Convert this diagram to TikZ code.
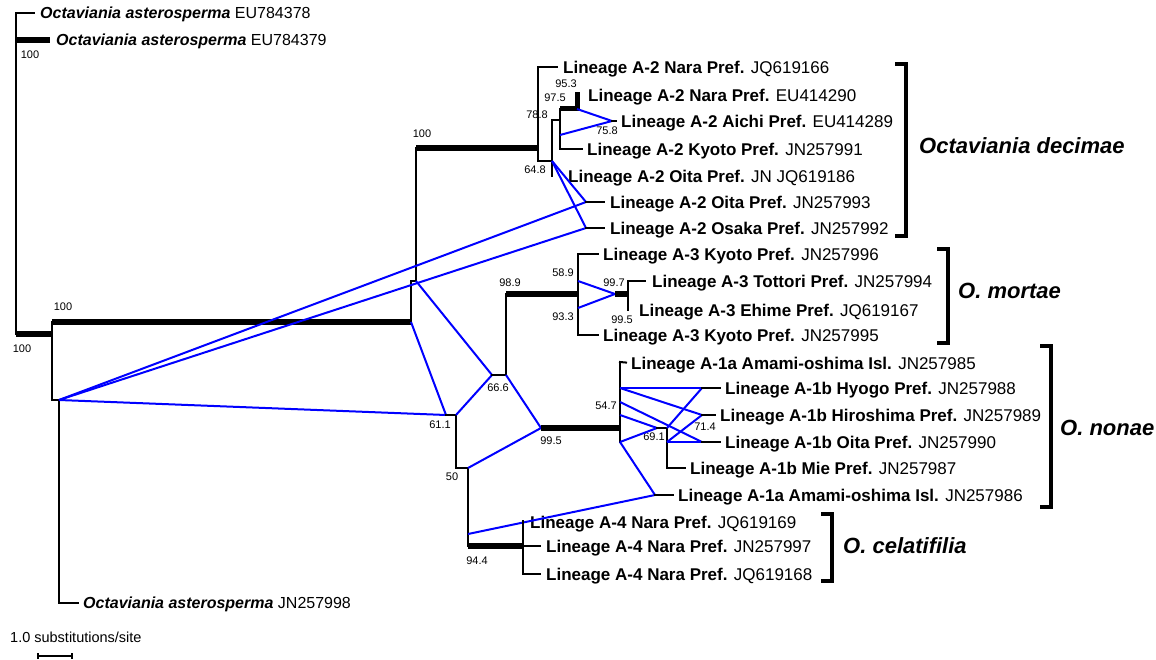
\documentclass[tikz,border=0pt]{standalone}
\usepackage{fontspec}
\setmainfont{Liberation Sans}
\usetikzlibrary{arrows.meta, positioning}

\begin{document}
\begin{tikzpicture}[x=1pt,y=-1pt]

	\tikzset{
		branch/.style={
				draw=black, line width=2pt, line cap=rect
			},
		thickbr/.style={
				draw=black, line width=6.5pt
			},
		net/.style={
				draw=blue, line width=2pt
			},
		taxon/.style={
				inner sep=0pt, anchor=west, text height=12.2pt, text depth=0pt, font=\fontsize{17}{19}\selectfont
			},
		outgrp/.style={
				taxon, text height=11.5pt, font=\fontsize{16}{18}\selectfont
			},
		bs/.style={
				inner sep=0pt, font=\fontsize{11}{12}\selectfont
			},
		clade/.style={
				inner sep=0pt, text height=15.6pt, text depth=0pt, font=\fontsize{22}{24}\selectfont\bfseries\itshape
			},
		bracket/.style={
				draw=black, line width=4pt
			},
	}
	\useasboundingbox (0,0) rectangle (1156,660);

	% tree vertices
	\coordinate (o0) at (16,13);
	\coordinate (o2) at (16,40);
	\coordinate (rt) at (16,334);
	\coordinate (r1) at (52,334);
	\coordinate (r2) at (52,322);
	\coordinate (r3) at (52,400);
	\coordinate (r4) at (59,400);
	\coordinate (r5) at (59,603);
	\coordinate (i0) at (411,322);
	\coordinate (i1) at (411,281);
	\coordinate (i2) at (416,281);
	\coordinate (i3) at (416,148);
	\coordinate (i4) at (538,148);
	\coordinate (a0) at (538,67);
	\coordinate (a2) at (538,161);
	\coordinate (a3) at (552,161);
	\coordinate (a4) at (552,120);
	\coordinate (a5) at (552,176);
	\coordinate (a6) at (560,120);
	\coordinate (a7) at (560,109);
	\coordinate (a8) at (560,149);
	\coordinate (a10) at (577,109);
	\coordinate (a11) at (577,92);
	\coordinate (a12) at (560,135);
	\coordinate (a13) at (612,121);
	\coordinate (a15) at (586,202);
	\coordinate (a17) at (586,228);
	\coordinate (c1) at (446,415);
	\coordinate (c2) at (456,415);
	\coordinate (c3) at (456,468);
	\coordinate (c4) at (468,468);
	\coordinate (c5) at (468,546);
	\coordinate (c6) at (492,375);
	\coordinate (c7) at (506,375);
	\coordinate (c8) at (506,294);
	\coordinate (c9) at (578,294);
	\coordinate (c10) at (541,428);
	\coordinate (c11) at (620,428);
	\coordinate (c12) at (468,534);
	\coordinate (m0) at (578,254);
	\coordinate (m1) at (578,335);
	\coordinate (m2) at (578,281);
	\coordinate (m3) at (578,308);
	\coordinate (m4) at (615,294);
	\coordinate (m5) at (628,294);
	\coordinate (m6) at (628,281);
	\coordinate (m7) at (628,310);
	\coordinate (p0) at (620,362);
	\coordinate (p1) at (620,442);
	\coordinate (p2) at (620,388);
	\coordinate (p3) at (620,402);
	\coordinate (p4) at (620,415);
	\coordinate (q0) at (657,428);
	\coordinate (q1) at (667,428);
	\coordinate (q2) at (667,468);
	\coordinate (q3) at (667,442);
	\coordinate (h1) at (702,388);
	\coordinate (h2) at (702,415);
	\coordinate (h3) at (702,442);
	\coordinate (h4) at (655,495);
	\coordinate (d0) at (523,521);
	\coordinate (d1) at (523,574);
	\coordinate (d2) at (523,546);

	% leaves
	\node[outgrp] (ast1) at (40,13) {\textbf{\textit{Octaviania asterosperma}} EU784378};
	\node[outgrp] (ast2) at (56,40) {\textbf{\textit{Octaviania asterosperma}} EU784379};
	\node[outgrp] (ast3) at (83,603) {\textbf{\textit{Octaviania asterosperma}} JN257998};
	\node[taxon] (n1) at (563,67) {\textbf{Lineage A-2 Nara Pref.} JQ619166};
	\node[taxon] (n2) at (588,95) {\textbf{Lineage A-2 Nara Pref.} EU414290};
	\node[taxon] (aic) at (621,121) {\textbf{Lineage A-2 Aichi Pref.} EU414289};
	\node[taxon] (kyo2) at (587,149) {\textbf{Lineage A-2 Kyoto Pref.} JN257991};
	\node[taxon] (oit1) at (568,176) {\textbf{Lineage A-2 Oita Pref.} JN JQ619186};
	\node[taxon] (oit2) at (610,202) {\textbf{Lineage A-2 Oita Pref.} JN257993};
	\node[taxon] (osa) at (610,228) {\textbf{Lineage A-2 Osaka Pref.} JN257992};
	\node[taxon] (k1) at (603,254) {\textbf{Lineage A-3 Kyoto Pref.} JN257996};
	\node[taxon] (tot) at (652,281) {\textbf{Lineage A-3 Tottori Pref.} JN257994};
	\node[taxon] (ehi) at (639,310) {\textbf{Lineage A-3 Ehime Pref.} JQ619167};
	\node[taxon] (k2) at (603,335) {\textbf{Lineage A-3 Kyoto Pref.} JN257995};
	\node[taxon] (am1) at (631,363) {\textbf{Lineage A-1a Amami-oshima Isl.} JN257985};
	\node[taxon] (hyo) at (725,388) {\textbf{Lineage A-1b Hyogo Pref.} JN257988};
	\node[taxon] (hir) at (720,415) {\textbf{Lineage A-1b Hiroshima Pref.} JN257989};
	\node[taxon] (oit3) at (725,442) {\textbf{Lineage A-1b Oita Pref.} JN257990};
	\node[taxon] (mie) at (690,468) {\textbf{Lineage A-1b Mie Pref.} JN257987};
	\node[taxon] (am2) at (678,495) {\textbf{Lineage A-1a Amami-oshima Isl.} JN257986};
	\node[taxon] (nr1) at (530,522) {\textbf{Lineage A-4 Nara Pref.} JQ619169};
	\node[taxon] (nr2) at (546,546) {\textbf{Lineage A-4 Nara Pref.} JN257997};
	\node[taxon] (nr3) at (546,574) {\textbf{Lineage A-4 Nara Pref.} JQ619168};

	% support values
	\node[bs] (b1) at (30,55) {100};
	\node[bs] (b2) at (22,349) {100};
	\node[bs] (b3) at (63,307) {100};
	\node[bs] (b4) at (422,134) {100};
	\node[bs] (b5) at (566,84) {95.3};
	\node[bs] (b6) at (555,98) {97.5};
	\node[bs] (b7) at (537,115) {78.8};
	\node[bs] (b8) at (607,131) {75.8};
	\node[bs] (b9) at (535,170) {64.8};
	\node[bs] (b10) at (510,283) {98.9};
	\node[bs] (b11) at (563,273) {58.9};
	\node[bs] (b12) at (563,317) {93.3};
	\node[bs] (b13) at (614,283) {99.7};
	\node[bs] (b14) at (622,320) {99.5};
	\node[bs] (b15) at (498,388) {66.6};
	\node[bs] (b16) at (440,425) {61.1};
	\node[bs] (b17) at (452,477) {50};
	\node[bs] (b18) at (551,441) {99.5};
	\node[bs] (b19) at (606,406) {54.7};
	\node[bs] (b20) at (654,437) {69.1};
	\node[bs] (b21) at (705,427) {71.4};
	\node[bs] (b22) at (477,561) {94.4};

	% outgroup
	\draw[branch] (o0) -- (rt);
	\draw[branch, shorten >=6pt] (o0) -- (ast1.west);
	\draw[thickbr, shorten >=6pt] (o2) -- (ast2.west);
	\draw[thickbr] (rt) -- (r1);
	\draw[branch] (r2) -- (r3) -- (r4) -- (r5);
	\draw[branch, shorten >=5pt] (r5) -- (ast3.west);
	\draw[thickbr] (r2) -- (i0);

	% lineage A-2
	\draw[branch] (i0) -- (i1) -- (i2) -- (i3);
	\draw[thickbr] (i3) -- (i4);
	\draw[branch] (a0) -- (a2) -- (a3);
	\draw[branch, shorten >=6pt] (a0) -- (n1.west);
	\draw[branch] (a4) -- (a5);
	\draw[branch] (a4) -- (a6);
	\draw[branch] (a7) -- (a8);
	\draw[branch, shorten >=5pt] (a8) -- (kyo2.west);
	\draw[thickbr, line width=5pt] (a7) -- (a10) -- (a11);
	\draw[net] (a10) -- (a13);
	\draw[net] (a12) -- (a13);
	\draw[branch, shorten >=5pt] (a13) -- (aic.west);
	\draw[net] (a3) -- (a15);
	\draw[net] (a3) -- (a17);
	\draw[net] (r4) -- (a15);
	\draw[net] (r4) -- (a17);
	\draw[branch, shorten >=6pt] (a15) -- (oit2.west);
	\draw[branch, shorten >=6pt] (a17) -- (osa.west);

	% backbone
	\draw[net] (i0) -- (c1);
	\draw[net] (i2) -- (c6);
	\draw[net] (r4) -- (c1);
	\draw[branch] (c1) -- (c2) -- (c3) -- (c4) -- (c5);
	\draw[net] (c2) -- (c6);
	\draw[branch] (c6) -- (c7) -- (c8);
	\draw[thickbr] (c8) -- (c9);
	\draw[net] (c7) -- (c10);
	\draw[net] (c4) -- (c10);
	\draw[thickbr] (c10) -- (c11);

	% lineage A-3
	\draw[branch] (m0) -- (m1);
	\draw[branch, shorten >=5pt] (m0) -- (k1.west);
	\draw[branch, shorten >=5pt] (m1) -- (k2.west);
	\draw[net] (m2) -- (m4);
	\draw[net] (m3) -- (m4);
	\draw[thickbr] (m4) -- (m5);
	\draw[branch] (m6) -- (m7);
	\draw[branch, shorten >=7pt] (m6) -- (tot.west);

	% lineage A-1
	\draw[branch] (p0) -- (p1);
	\draw[branch, shorten >=5pt] (p0) -- (am1.west);
	\draw[net] (p2) -- (h1);
	\draw[net] (p2) -- (h2);
	\draw[net] (p3) -- (h3);
	\draw[net] (p4) -- (q0);
	\draw[net] (p1) -- (q0);
	\draw[branch] (q0) -- (q1) -- (q2);
	\draw[branch, shorten >=5pt] (q2) -- (mie.west);
	\draw[net] (q1) -- (h1);
	\draw[net] (q3) -- (h2);
	\draw[net] (q3) -- (h3);
	\draw[branch, shorten >=5pt] (h1) -- (hyo.west);
	\draw[branch, shorten >=5pt] (h2) -- (hir.west);
	\draw[branch, shorten >=5pt] (h3) -- (oit3.west);
	\draw[net] (p1) -- (h4);
	\draw[net] (c12) -- (h4);
	\draw[branch, shorten >=5pt] (h4) -- (am2.west);

	% lineage A-4
	\draw[thickbr] (c5) -- (d2);
	\draw[branch] (d0) -- (d1);
	\draw[branch, shorten >=6pt] (d2) -- (nr2.west);
	\draw[branch, shorten >=6pt] (d1) -- (nr3.west);

	% species brackets
	\coordinate (bd1) at (895,64);
	\coordinate (bd2) at (895,236);
	\coordinate (dec) at (906,146);
	\draw[bracket] (bd1) -- ++(11,0) |- (bd2);
	\node[clade, right=13pt of dec] (cdec) {Octaviania decimae};

	\coordinate (bm1) at (937,249);
	\coordinate (bm2) at (937,343);
	\coordinate (mor) at (948,291);
	\draw[bracket] (bm1) -- ++(11,0) |- (bm2);
	\node[clade, right=10pt of mor] (cmor) {O. mortae};

	\coordinate (bn1) at (1040,346);
	\coordinate (bn2) at (1040,507);
	\coordinate (non) at (1051,428);
	\draw[bracket] (bn1) -- ++(11,0) |- (bn2);
	\node[clade, right=9pt of non] (cnon) {O. nonae};

	\coordinate (bc1) at (821,514);
	\coordinate (bc2) at (821,581);
	\coordinate (cel) at (832,546);
	\draw[bracket] (bc1) -- ++(11,0) |- (bc2);
	\node[clade, right=11pt of cel] (ccel) {O. celatifilia};

	% scale
	\node[inner sep=0pt, anchor=west, font=\fontsize{14.5}{16}\selectfont] (sclab) at (10,637) {1.0 substitutions/site};
	\coordinate (sb1) at (37,656);
	\coordinate (sb2) at (73,656);
	\draw[branch, line cap=butt, {Bar[width=6pt]}-{Bar[width=6pt]}] (sb1) -- (sb2);

\end{tikzpicture}
\end{document}
